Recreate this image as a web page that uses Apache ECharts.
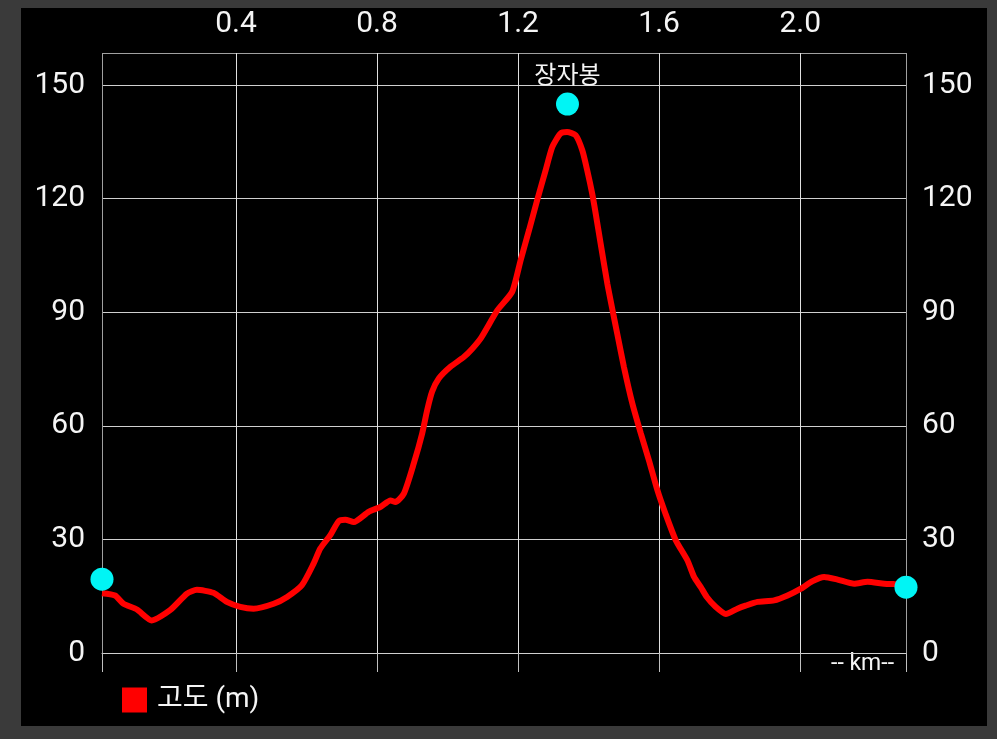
<!DOCTYPE html>
<html>
<head>
<meta charset="utf-8">
<script src="https://cdn.jsdelivr.net/npm/echarts@6/dist/echarts.min.js"></script>
<style>
  html, body { margin: 0; padding: 0; background: #3a3a3a; }
  #chart { position: absolute; left: 21px; top: 8px; width: 966px; height: 718px; background: #000; }
</style>
</head>
<body>
<div id="chart"></div>
<script>
// 거리(km) / 고도(m)
const distKm = [0.02, 0.057, 0.081, 0.119, 0.161, 0.213, 0.261, 0.289, 0.336, 0.374, 0.412, 0.45, 0.507, 0.545, 0.587, 0.62, 0.639, 0.668, 0.691, 0.71, 0.734, 0.776, 0.81, 0.838, 0.852, 0.876, 0.904, 0.928, 0.942, 0.956, 0.975, 1.008, 1.046, 1.07, 1.096, 1.141, 1.183, 1.207, 1.231, 1.254, 1.278, 1.297, 1.32, 1.339, 1.363, 1.382, 1.396, 1.41, 1.42, 1.434, 1.453, 1.47, 1.481, 1.5, 1.524, 1.548, 1.571, 1.595, 1.618, 1.647, 1.68, 1.699, 1.718, 1.735, 1.76, 1.789, 1.822, 1.845, 1.879, 1.926, 1.964, 2.002, 2.035, 2.068, 2.106, 2.153, 2.191, 2.238, 2.266, 2.30];
const elevM = [15.8, 15.2, 13.0, 11.5, 8.6, 11.3, 15.7, 16.7, 15.9, 13.5, 12.2, 11.7, 13.0, 14.8, 17.9, 23.6, 27.6, 31.2, 34.8, 35.2, 34.6, 37.3, 38.6, 40.3, 39.9, 42.1, 50.0, 58.0, 64.1, 69.0, 72.5, 75.6, 78.2, 80.4, 83.4, 90.5, 95.4, 103.7, 111.7, 119.6, 127.5, 133.7, 137.2, 137.6, 136.8, 132.8, 127.5, 121.4, 116.1, 108.2, 97.6, 89.5, 84.4, 75.6, 65.9, 58.0, 50.9, 43.0, 36.8, 29.8, 24.5, 20.1, 17.4, 14.8, 12.2, 10.3, 11.7, 12.5, 13.5, 13.9, 15.2, 17.0, 19.0, 20.1, 19.4, 18.3, 18.8, 18.3, 18.2, 18.1];

// 지점 표시
const markerKm = [0.02, 1.34, 2.30];
const markerM = [19.5, 145, 17.4];
const markerNames = ['', '장자봉', ''];

const xLabelTicks = [0.4, 0.8, 1.2, 1.6, 2.0];
const xGridTicks = [0.02, 0.4, 0.8, 1.2, 1.6, 2.0, 2.30];
const xMin = 0.02, xMax = 2.30;
const yMin = 0, yMax = 158.5, yStep = 30;

const font = 'Roboto, "Noto Sans CJK KR", sans-serif';

let chart = echarts.init(document.getElementById('chart'));

let lineData = distKm.map((d, i) => [d, elevM[i]]);
let markerData = markerKm.map((d, i) => {
  let item = { value: [d, markerM[i]] };
  if (markerNames[i]) {
    item.label = {
      show: true, position: 'top', distance: 4,
      formatter: markerNames[i], color: '#f5f5f5', fontSize: 24, fontFamily: font
    };
  }
  return item;
});

chart.setOption({
  backgroundColor: '#000',
  animation: false,
  grid: { left: 81, right: 81, top: 45, bottom: 73 },
  legend: {
    left: 96, top: 673,
    data: ['고도 (m)'],
    icon: 'rect', itemWidth: 25, itemHeight: 25,
    textStyle: { color: '#f5f5f5', fontSize: 28, fontFamily: font, padding: [0, 0, 0, 5] }
  },
  xAxis: [
    {
      type: 'value', position: 'bottom', min: xMin, max: xMax,
      name: '-- km--', nameLocation: 'end', nameGap: -12,
      nameTextStyle: { color: '#f5f5f5', fontSize: 23, fontFamily: font, align: 'right', verticalAlign: 'top' },
      axisLine: { show: true, onZero: true, lineStyle: { color: '#d0d0d0', width: 1 } },
      axisTick: { show: true, length: 19, customValues: xGridTicks, lineStyle: { color: '#c0c0c0' } },
      axisLabel: { show: false },
      splitLine: { show: true, lineStyle: { color: ['#a0a0a0', '#e0e0e0', '#e0e0e0', '#e0e0e0', '#e0e0e0', '#e0e0e0', '#a0a0a0'], width: 1 } }
    },
    {
      type: 'value', position: 'top', min: xMin, max: xMax,
      axisLine: { show: false },
      axisTick: { show: false },
      splitLine: { show: false },
      axisLabel: {
        customValues: xLabelTicks, margin: 14,
        color: '#f5f5f5', fontSize: 30, fontFamily: font,
        formatter: v => v.toFixed(1)
      }
    }
  ],
  yAxis: [
    {
      type: 'value', position: 'left', min: yMin, max: yMax, interval: yStep,
      axisLine: { show: false }, axisTick: { show: false },
      axisLabel: { margin: 17, color: '#f5f5f5', fontSize: 30, fontFamily: font, showMaxLabel: false },
      splitLine: { show: true, lineStyle: { color: ['#d0d0d0', '#d0d0d0', '#d0d0d0', '#d0d0d0', '#d0d0d0', '#d0d0d0', '#a0a0a0'], width: 1 } }
    },
    {
      type: 'value', position: 'right', min: yMin, max: yMax, interval: yStep,
      axisLine: { show: false }, axisTick: { show: false },
      axisLabel: { margin: 16, color: '#f5f5f5', fontSize: 30, fontFamily: font, showMaxLabel: false },
      splitLine: { show: false }
    }
  ],
  series: [
    {
      name: '고도 (m)', type: 'line', xAxisIndex: 0, yAxisIndex: 0,
      data: lineData, showSymbol: false, smooth: 0.2,
      itemStyle: { color: '#ff0000' },
      lineStyle: { color: '#ff0000', width: 6 }
    },
    {
      name: 'markers', type: 'scatter', xAxisIndex: 0, yAxisIndex: 0,
      data: markerData, symbolSize: 23, z: 5,
      itemStyle: { color: '#00f5f5', opacity: 1 }
    }
  ]
});
</script>
</body>
</html>
